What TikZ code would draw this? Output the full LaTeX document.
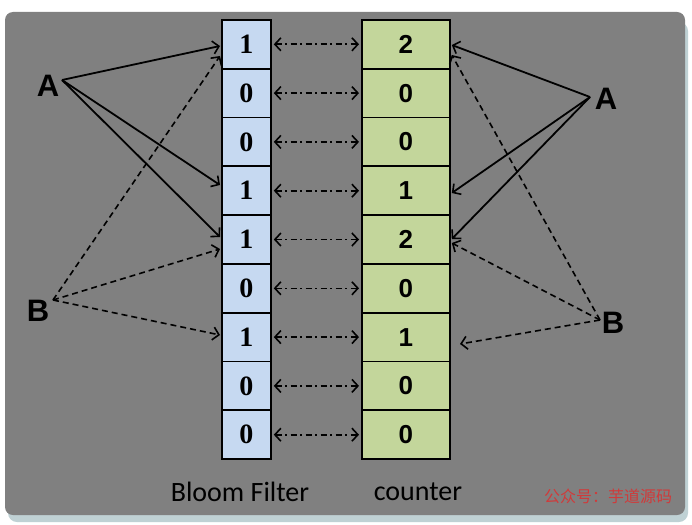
\documentclass[tikz,border=0pt]{standalone}
\usepackage{fontspec}
\setmainfont{Liberation Serif}
\setsansfont{Carlito}
\newfontfamily\lsans{Liberation Sans}
\newfontfamily\cjk{Noto Sans CJK SC}
\usetikzlibrary{arrows.meta}
\definecolor{bgray}{HTML}{808080}
\definecolor{bfill}{HTML}{C6D9F1}
\definecolor{cfill}{HTML}{C3D69B}
\definecolor{shad}{HTML}{AFC6CA}
\definecolor{wm}{HTML}{D03A3A}
\begin{document}
\begin{tikzpicture}[x=1pt,y=-1pt,
  cellb/.style={draw=black,line width=1.8pt,fill=bfill,minimum width=49pt,minimum height=48.8pt,inner sep=0pt,anchor=north west,
     font=\fontsize{28}{28}\selectfont\bfseries},
  cellc/.style={draw=black,line width=1.8pt,fill=cfill,minimum width=88pt,minimum height=48.8pt,inner sep=0pt,anchor=north west,
     font=\fontsize{26}{26}\selectfont\lsans\bfseries},
  letter/.style={font=\fontsize{31}{31}\selectfont\lsans\bfseries,inner sep=0pt},
  tip/.style={-{Straight Barb[length=6pt,width=13pt,line width=1.6pt]}},
  solidarr/.style={tip,line width=1.8pt},
  dasharr/.style={tip,line width=1.6pt,dash pattern=on 6pt off 4pt},
  linkarr/.style={{Straight Barb[length=6pt,width=13pt,line width=1.6pt]}-{Straight Barb[length=6pt,width=13pt,line width=1.6pt]},line width=1.6pt,dash pattern=on 6pt off 3.5pt on 2pt off 3.5pt},
  lab/.style={font=\fontsize{28}{28}\selectfont\sffamily,inner sep=0pt}
]
\useasboundingbox (0,0) rectangle (692,524);
\fill[white] (0,0) rectangle (692,524);
\fill[shad,opacity=0.8,rounded corners=9pt] (8,22) rectangle (688,522);
\fill[bgray,rounded corners=8pt] (5,12) rectangle (685,515);

\foreach \v [count=\i] in {1,0,0,1,1,0,1,0,0}{
  \node[cellb] (b\i) at (221,{19+(\i-1)*48.8}) {\v};
}
\foreach \v [count=\i] in {2,0,0,1,2,0,1,0,0}{
  \node[cellc] (c\i) at (361,{19+(\i-1)*48.8}) {\v};
}
\foreach \i in {1,...,9}{
  \draw[linkarr] ([xshift=2pt]b\i.east) -- ([xshift=-2pt]c\i.west);
}

\node[letter] (A) at (48,86) {A};
\node[letter] (B) at (38,311) {B};
\node[letter] (A2) at (606,99) {A};
\node[letter] (B2) at (613,323) {B};
\coordinate (Ao) at (62,80);
\coordinate (Bo) at (53,300);
\coordinate (A2o) at (590,97);
\coordinate (B2o) at (600,320);
\coordinate (free) at (460,344);

\draw[solidarr] (Ao) -- ([xshift=-1pt]b1.west |- 0,46);
\draw[solidarr] (Ao) -- ([xshift=-1pt]b4.west |- 0,185);
\draw[solidarr] (Ao) -- ([xshift=-1pt]b5.west |- 0,237);
\draw[dasharr] (Bo) -- ([xshift=-1pt]b1.west |- 0,56);
\draw[dasharr] (Bo) -- ([xshift=-1pt]b5.west |- 0,249);
\draw[dasharr] (Bo) -- ([xshift=-1pt]b7.west |- 0,335);

\draw[solidarr] (A2o) -- ([xshift=1pt]c1.east |- 0,45);
\draw[solidarr] (A2o) -- ([xshift=1pt]c4.east |- 0,193);
\draw[solidarr] (A2o) -- ([xshift=1pt]c5.east |- 0,239);
\draw[dasharr] (B2o) -- ([xshift=1pt]c1.east |- 0,55);
\draw[dasharr] (B2o) -- ([xshift=1pt]c5.east |- 0,243);
\draw[dasharr] (B2o) -- (free);

\node[lab] (bl) at (240,492) {Bloom Filter};
\node[lab] (cl) at (418,492) {counter};
\node[font=\fontsize{16}{16}\selectfont\cjk,text=wm,inner sep=0pt] (wmk) at (608,496) {公众号：芋道源码};
\end{tikzpicture}
\end{document}
